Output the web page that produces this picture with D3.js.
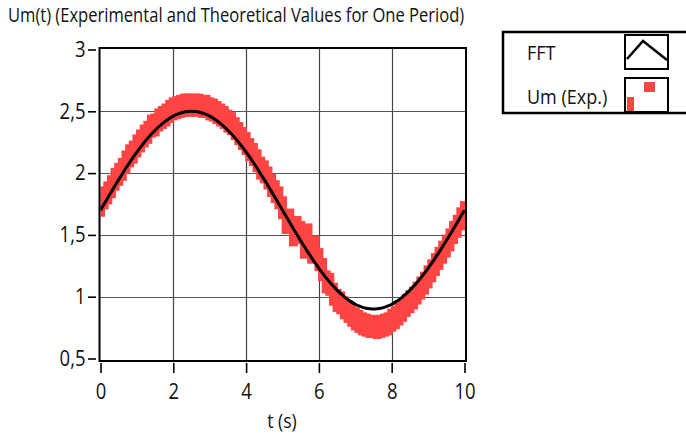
<!DOCTYPE html>
<html>
<head>
<meta charset="utf-8">
<script src="https://cdn.jsdelivr.net/npm/d3@7"></script>
<style>
  html, body { margin: 0; padding: 0; background: #fff; }
  svg { display: block; }
  text { font-family: "Open Sans", "Noto Sans", sans-serif; fill: #111; }
</style>
</head>
<body>
<svg id="chart" width="686" height="438"></svg>
<script>
// ---- data ----
const title = "Um(t) (Experimental and Theoretical Values for One Period)";
const xLabel = "t (s)";
const xTicks = [0, 2, 4, 6, 8, 10];
const yTicks = [0.5, 1, 1.5, 2, 2.5, 3];
const legendLabels = ["FFT", "Um (Exp.)"];

// time samples (s)
const tValues = [
  0.0, 0.1, 0.2, 0.3, 0.4, 0.5, 0.6, 0.7, 0.8, 0.9,
  1.0, 1.1, 1.2, 1.3, 1.4, 1.5, 1.6, 1.7, 1.8, 1.9,
  2.0, 2.1, 2.2, 2.3, 2.4, 2.5, 2.6, 2.7, 2.8, 2.9,
  3.0, 3.1, 3.2, 3.3, 3.4, 3.5, 3.6, 3.7, 3.8, 3.9,
  4.0, 4.1, 4.2, 4.3, 4.4, 4.5, 4.6, 4.7, 4.8, 4.9,
  5.0, 5.1, 5.2, 5.3, 5.4, 5.5, 5.6, 5.7, 5.8, 5.9,
  6.0, 6.1, 6.2, 6.3, 6.4, 6.5, 6.6, 6.7, 6.8, 6.9,
  7.0, 7.1, 7.2, 7.3, 7.4, 7.5, 7.6, 7.7, 7.8, 7.9,
  8.0, 8.1, 8.2, 8.3, 8.4, 8.5, 8.6, 8.7, 8.8, 8.9,
  9.0, 9.1, 9.2, 9.3, 9.4, 9.5, 9.6, 9.7, 9.8, 9.9, 10.0
];
// theoretical (FFT) curve
const fftValues = [
  1.700, 1.750, 1.800, 1.850, 1.899, 1.947, 1.994, 2.041, 2.085, 2.129,
  2.170, 2.210, 2.248, 2.283, 2.316, 2.347, 2.375, 2.401, 2.424, 2.444,
  2.461, 2.475, 2.486, 2.494, 2.498, 2.500, 2.498, 2.494, 2.486, 2.475,
  2.461, 2.444, 2.424, 2.401, 2.375, 2.347, 2.316, 2.283, 2.248, 2.210,
  2.170, 2.129, 2.085, 2.041, 1.994, 1.947, 1.899, 1.850, 1.800, 1.750,
  1.700, 1.650, 1.600, 1.550, 1.501, 1.453, 1.406, 1.359, 1.315, 1.271,
  1.230, 1.190, 1.152, 1.117, 1.084, 1.053, 1.025, 0.999, 0.976, 0.956,
  0.939, 0.925, 0.914, 0.906, 0.902, 0.900, 0.902, 0.906, 0.914, 0.925,
  0.939, 0.956, 0.976, 0.999, 1.025, 1.053, 1.084, 1.117, 1.152, 1.190,
  1.230, 1.271, 1.315, 1.359, 1.406, 1.453, 1.501, 1.550, 1.600, 1.650, 1.700
];
// experimental values
const expValues = [
  1.74, 1.80, 1.84, 1.89, 1.95, 1.99, 2.03, 2.09, 2.14, 2.17,
  2.22, 2.26, 2.30, 2.33, 2.38, 2.39, 2.43, 2.45, 2.47, 2.50,
  2.52, 2.53, 2.54, 2.55, 2.55, 2.55, 2.55, 2.55, 2.54, 2.54,
  2.52, 2.51, 2.49, 2.47, 2.45, 2.42, 2.40, 2.36, 2.32, 2.28,
  2.24, 2.19, 2.15, 2.10, 2.04, 2.01, 1.96, 1.90, 1.85, 1.80,
  1.72, 1.60, 1.62, 1.50, 1.56, 1.52, 1.40, 1.50, 1.36, 1.40,
  1.30, 1.22, 1.12, 1.10, 1.02, 0.97, 0.95, 0.91, 0.88, 0.85,
  0.82, 0.80, 0.78, 0.77, 0.76, 0.76, 0.75, 0.76, 0.77, 0.78,
  0.81, 0.83, 0.86, 0.89, 0.93, 0.96, 0.99, 1.03, 1.07, 1.11,
  1.16, 1.21, 1.26, 1.31, 1.36, 1.41, 1.46, 1.52, 1.57, 1.63, 1.68
];

// ---- drawing ----
const svg = d3.select("#chart");

const x = d3.scaleLinear().domain([0, 10]).range([100.5, 464.5]);
const y = d3.scaleLinear().domain([0.5, 3]).range([358.5, 49.5]);
const plot = { left: 99.5, top: 48, right: 466, bottom: 361 };

// title
svg.append("text")
  .attr("transform", "translate(8,22) scale(0.85,1)")
  .attr("font-size", 19.5)
  .text(title);

// clip
svg.append("defs").append("clipPath").attr("id", "clip")
  .append("rect")
  .attr("x", plot.left + 1).attr("y", plot.top + 1)
  .attr("width", plot.right - plot.left - 1.5)
  .attr("height", plot.bottom - plot.top - 2);

// grid
const grid = svg.append("g");
grid.selectAll("line.v").data(xTicks.slice(1, -1)).join("line")
  .attr("x1", d => Math.round(x(d)) + 0.5).attr("x2", d => Math.round(x(d)) + 0.5)
  .attr("y1", plot.top).attr("y2", plot.bottom)
  .attr("stroke", "#444").attr("stroke-width", 1.2);
grid.selectAll("line.h").data(yTicks.slice(1, -1)).join("line")
  .attr("y1", d => Math.round(y(d)) + 0.5).attr("y2", d => Math.round(y(d)) + 0.5)
  .attr("x1", plot.left).attr("x2", plot.right)
  .attr("stroke", "#555").attr("stroke-width", 1.2);

// data
const g = svg.append("g").attr("clip-path", "url(#clip)");
const expPts = tValues.map((t, i) => ({ t, v: expValues[i] }));
const fftPts = tValues.map((t, i) => ({ t, v: fftValues[i] }));

const RW = 9, RH = 23;
g.selectAll("rect.exp").data(expPts).join("rect")
  .attr("x", d => x(d.t) - RW / 2)
  .attr("y", d => y(d.v) - RH / 2)
  .attr("width", RW).attr("height", RH)
  .attr("fill", "#ff4444");

g.append("path")
  .datum(fftPts)
  .attr("fill", "none")
  .attr("stroke", "#000")
  .attr("stroke-width", 3)
  .attr("d", d3.line().x(d => x(d.t)).y(d => y(d.v)).curve(d3.curveCatmullRom));

// frame
svg.append("rect")
  .attr("x", plot.left).attr("y", plot.top)
  .attr("width", plot.right - plot.left).attr("height", plot.bottom - plot.top)
  .attr("fill", "none").attr("stroke", "#000").attr("stroke-width", 2);

// y axis
const SX = 0.88;
const yAxis = svg.append("g")
  .attr("transform", "translate(96,0)")
  .call(d3.axisLeft(y).tickValues(yTicks).tickSize(8).tickPadding(2)
    .tickFormat(d => String(d).replace(".", ",")));
yAxis.select(".domain").remove();
yAxis.selectAll(".tick line").attr("stroke", "#000").attr("stroke-width", 1.6);
yAxis.selectAll(".tick text")
  .attr("font-size", 21).attr("font-family", null).attr("fill", "#111")
  .attr("x", -10.5 / SX)
  .attr("transform", `scale(${SX},1)`);

// x axis
const xAxis = svg.append("g")
  .attr("transform", "translate(0,363)")
  .call(d3.axisBottom(x).tickValues(xTicks).tickSize(10).tickPadding(11)
    .tickFormat(d3.format("d")));
xAxis.select(".domain").remove();
xAxis.selectAll(".tick line").attr("stroke", "#000").attr("stroke-width", 1.6);
xAxis.selectAll(".tick text")
  .attr("font-size", 21).attr("font-family", null).attr("fill", "#111")
  .attr("transform", `scale(${SX},1)`);

// x label
svg.append("text")
  .attr("transform", "translate(282,428) scale(0.88,1)")
  .attr("text-anchor", "middle")
  .attr("font-size", 20)
  .text(xLabel);

// legend
const lg = svg.append("g");
lg.append("rect")
  .attr("x", 503).attr("y", 32).attr("width", 200).attr("height", 81)
  .attr("fill", "#fff").attr("stroke", "#000").attr("stroke-width", 2.5);
lg.selectAll("text.lab").data(legendLabels).join("text")
  .attr("transform", (d, i) => `translate(527,${i === 0 ? 60 : 104}) scale(0.9,1)`)
  .attr("font-size", 20)
  .text(d => d);
// icon boxes
[35, 78].forEach(yy => {
  lg.append("rect").attr("x", 625).attr("y", yy).attr("width", 43).attr("height", 34)
    .attr("fill", "#fff").attr("stroke", "#000").attr("stroke-width", 2);
});
lg.append("path")
  .attr("d", "M627,59 L643,41 L667,60")
  .attr("fill", "none").attr("stroke", "#000").attr("stroke-width", 2.5);
lg.append("rect").attr("x", 644).attr("y", 82).attr("width", 11).attr("height", 10).attr("fill", "#ff4444");
lg.append("rect").attr("x", 627).attr("y", 97).attr("width", 7).attr("height", 14).attr("fill", "#ff4444");
</script>
</body>
</html>
